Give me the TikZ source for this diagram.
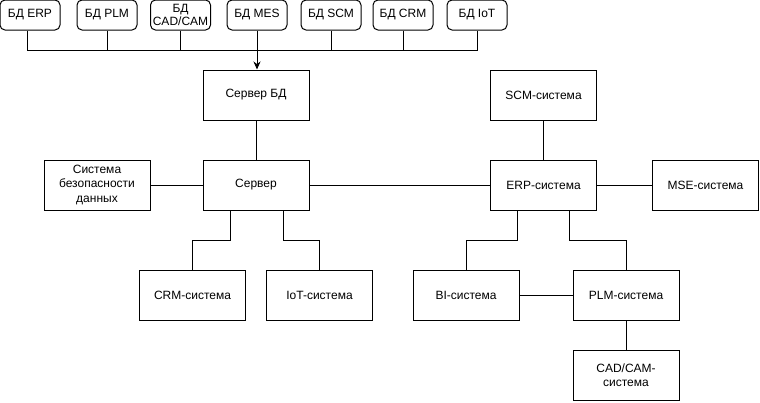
\documentclass[tikz,border=0pt]{standalone}
\usepackage{fontspec}
\setmainfont{Liberation Sans}
\usetikzlibrary{arrows.meta}

\begin{document}
\begin{tikzpicture}[x=1pt, y=-1pt, line width=1pt,
    every node/.style={font=\fontsize{12}{14.4}\selectfont, align=center},
    db/.style={draw, rounded corners=5pt, minimum width=60pt,
      minimum height=30pt, inner sep=1pt},
    sys/.style={draw, minimum width=106pt, minimum height=50pt,
      inner sep=2pt}]
    \useasboundingbox (0,0) rectangle (760,402);
    \node[db] (dberp) at (30,15)    {БД ERP};
    \node[db] (dbplm) at (107,15)   {БД PLM};
    \node[db] (dbcad) at (180.5,15) {БД\\[-1pt]CAD/CAM};
    \node[db] (dbmes) at (257,15)   {БД MES};
    \node[db] (dbscm) at (331,15)   {БД SCM};
    \node[db] (dbcrm) at (403,15)   {БД CRM};
    \node[db] (dbiot) at (477,15)   {БД IoT};
    \coordinate (bus) at (0,50);

    \node[sys] (srvdb) at (256,95)   {Сервер БД};
    \node[sys] (srv)   at (256,185)  {Сервер};
    \node[sys] (sec)   at (97,185)   {Система\\безопасности\\данных};
    \node[sys] (crm)   at (192.5,295) {CRM-система};
    \node[sys] (iot)   at (319.5,295) {IoT-система};
    \node[sys] (scm)   at (543.5,95)  {SCM-система};
    \node[sys] (erp)   at (543.5,185) {ERP-система};
    \node[sys] (mse)   at (705.5,185) {MSE-система};
    \node[sys] (bi)    at (466,295)   {BI-система};
    \node[sys] (plm)   at (626,295)   {PLM-система};
    \node[sys] (cad)   at (626,375)   {CAD/CAM-\\система};

    \draw ([xshift=-3pt]dberp.south) |- (bus -| dbiot.south) -- (dbiot.south);
    \foreach \n in {dbplm, dbcad, dbscm, dbcrm}
      \draw (\n.south) -- (\n.south |- bus);
    \draw[-{Stealth[length=8pt, width=7pt]}] (dbmes.south) -- (dbmes.south |- srvdb.north);

    \draw (srvdb) -- (srv);
    \draw (sec) -- (srv);
    \draw (srv) -- (erp);
    \draw ([xshift=-26pt]srv.south) -- ++(0,30) -| (crm.north);
    \draw ([xshift=27pt]srv.south) -- ++(0,30) -| (iot.north);
    \draw (scm) -- (erp);
    \draw (erp) -- (mse);
    \draw ([xshift=-26pt]erp.south) -- ++(0,30) -| (bi.north);
    \draw ([xshift=26pt]erp.south) -- ++(0,30) -| (plm.north);
    \draw (bi) -- (plm);
    \draw (plm) -- (cad);
\end{tikzpicture}
\end{document}
